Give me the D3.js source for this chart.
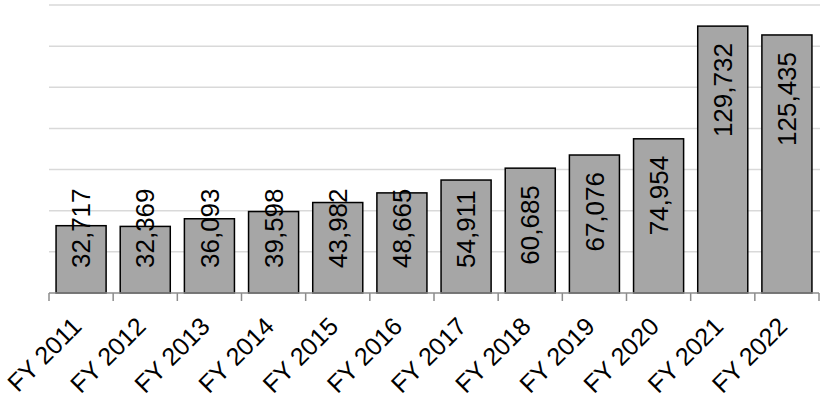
<!DOCTYPE html>
<html>
<head>
<meta charset="utf-8">
<script src="https://cdn.jsdelivr.net/npm/d3@7"></script>
<style>
  body { margin: 0; background: #fff; }
  svg { display: block; font-family: "Liberation Sans", Arial, sans-serif; }
</style>
</head>
<body>
<svg id="chart" width="820" height="402"></svg>
<script>
(function(){
"use strict";

var years = ["FY 2011", "FY 2012", "FY 2013", "FY 2014", "FY 2015", "FY 2016",
             "FY 2017", "FY 2018", "FY 2019", "FY 2020", "FY 2021", "FY 2022"];
var amounts = [32717, 32369, 36093, 39598, 43982, 48665,
               54911, 60685, 67076, 74954, 129732, 125435];
var gridTicks = [0, 20000, 40000, 60000, 80000, 100000, 120000, 140000];

var left = 49, right = 819, top = 5, bottom = 293;
var svg = d3.select("#chart");

var x = d3.scaleBand().domain(years).range([left, right]).paddingInner(0.22).paddingOuter(0.11);
var y = d3.scaleLinear().domain([0, 140000]).range([bottom, top]);
var fmt = d3.format(",");

// gridlines
svg.append("g")
    .selectAll("line")
    .data(gridTicks.slice(1))
    .enter().append("line")
    .attr("x1", left).attr("x2", 820)
    .attr("y1", function(d){ return y(d); })
    .attr("y2", function(d){ return y(d); })
    .attr("stroke", "#d9d9d9")
    .attr("stroke-width", 1.5);

// bars
svg.append("g")
    .selectAll("rect")
    .data(amounts)
    .enter().append("rect")
    .attr("x", function(d, i){ return x(years[i]); })
    .attr("y", function(d){ return y(d); })
    .attr("width", x.bandwidth())
    .attr("height", function(d){ return bottom - y(d); })
    .attr("fill", "#a6a6a6")
    .attr("stroke", "#000")
    .attr("stroke-width", 1.5);

// x axis with ticks on category boundaries
var step = x.step();
var axis = svg.append("g");
axis.append("line")
    .attr("x1", left).attr("x2", right)
    .attr("y1", bottom).attr("y2", bottom)
    .attr("stroke", "#8c8c8c").attr("stroke-width", 1.5);
axis.selectAll("line.tick")
    .data(d3.range(years.length + 1))
    .enter().append("line")
    .attr("class", "tick")
    .attr("x1", function(i){ return left + i * step; })
    .attr("x2", function(i){ return left + i * step; })
    .attr("y1", bottom).attr("y2", bottom + 8)
    .attr("stroke", "#8c8c8c").attr("stroke-width", 1.5);

axis.selectAll("text")
    .data(years)
    .enter().append("text")
    .attr("transform", function(d){
        return "translate(" + (x(d) + x.bandwidth() / 2 + 2) + "," + (bottom + 35) + ") rotate(-45)";
    })
    .attr("text-anchor", "end")
    .attr("font-size", 25)
    .attr("fill", "#000")
    .text(function(d){ return d; });

// value labels, inside end but kept clear of the base
var labels = svg.append("g")
    .selectAll("text")
    .data(amounts)
    .enter().append("text")
    .attr("text-anchor", "start")
    .attr("font-size", 26)
    .attr("dy", "0.35em")
    .attr("fill", "#000")
    .text(function(d){ return fmt(d); });

labels.each(function(d, i){
    var len = this.getComputedTextLength();
    var cx = x(years[i]) + x.bandwidth() / 2;
    var base = Math.min(bottom - 25, y(d) + 17 + len);
    d3.select(this).attr("transform", "translate(" + cx + "," + base + ") rotate(-90)");
});

})();
</script>
</body>
</html>
